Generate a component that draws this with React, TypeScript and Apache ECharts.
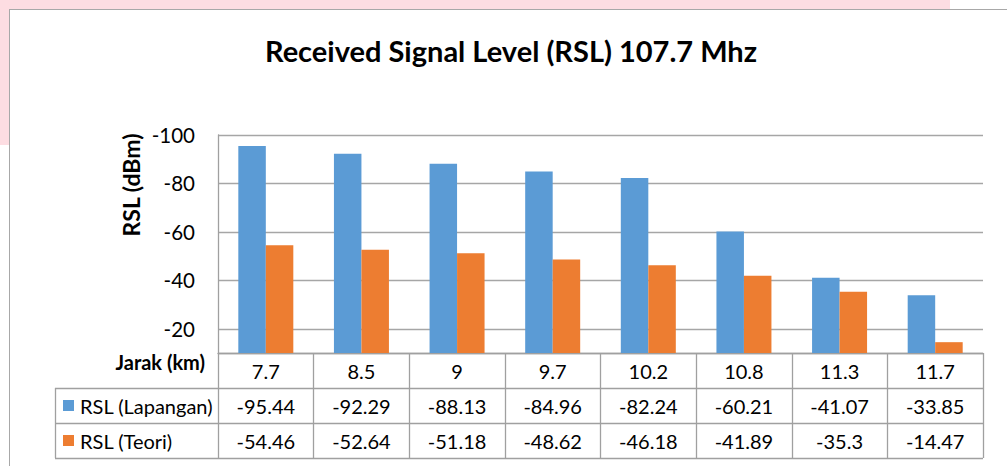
import React, { useEffect, useRef } from "react";
import * as echarts from "echarts";

const categories = ["7.7", "8.5", "9", "9.7", "10.2", "10.8", "11.3", "11.7"];
const rslLapangan = [-95.44, -92.29, -88.13, -84.96, -82.24, -60.21, -41.07, -33.85];
const rslTeori = [-54.46, -52.64, -51.18, -48.62, -46.18, -41.89, -35.3, -14.47];
const seriesNames = ["RSL (Lapangan)", "RSL (Teori)"];
const colors = ["#5b9bd5", "#ed7d31"];
const titleText = "Received Signal Level (RSL) 107.7 Mhz";
const yAxisTitle = "RSL (dBm)";
const xAxisTitle = "Jarak (km)";

const FONT = "Lato, 'Noto Sans', sans-serif";
const LINE = "#a0a0a0";

export default function App() {
  const ref = useRef<HTMLDivElement>(null);
  useEffect(() => {
    document.body.style.margin = "0";
    const chart = echarts.init(ref.current!, null, { renderer: "svg" });
    const gridLeft = 218;
    const gridRight = 983;
    const gridTop = 135;
    const gridBottom = 353;
    const rowH = 35;
    const tableLeft = 55;
    const rows = [gridBottom + rowH, gridBottom + 2 * rowH, gridBottom + 3 * rowH];

    const graphic: any[] = [
      { type: "rect", shape: { x: 0, y: 0, width: 950, height: 9 }, style: { fill: "#fddde2" }, silent: true },
      { type: "rect", shape: { x: 0, y: 0, width: 9, height: 145 }, style: { fill: "#fddde2" }, silent: true },
      { type: "line", shape: { x1: 9, y1: 9.5, x2: 1007, y2: 9.5 }, style: { stroke: "#a8a8a8", lineWidth: 1 } },
      { type: "line", shape: { x1: 9.5, y1: 9, x2: 9.5, y2: 466 }, style: { stroke: "#a8a8a8", lineWidth: 1 } },
      {
        type: "text",
        x: 511,
        y: 50,
        style: { text: titleText, font: `bold 29px ${FONT}`, fill: "#000", textAlign: "center", textVerticalAlign: "middle" },
      },
      {
        type: "text",
        x: 131,
        y: 185,
        rotation: Math.PI / 2,
        style: { text: yAxisTitle, font: `bold 23px ${FONT}`, fill: "#000", textAlign: "center", textVerticalAlign: "middle" },
      },
      {
        type: "text",
        x: 205,
        y: 362,
        style: { text: xAxisTitle, font: `bold 20px ${FONT}`, fill: "#000", textAlign: "right", textVerticalAlign: "middle" },
      },
    ];
    rows.forEach((y) => {
      graphic.push({ type: "line", shape: { x1: tableLeft, y1: y + 0.5, x2: gridRight, y2: y + 0.5 }, style: { stroke: LINE, lineWidth: 1.3 } });
    });
    graphic.push({ type: "line", shape: { x1: tableLeft + 0.5, y1: rows[0], x2: tableLeft + 0.5, y2: rows[2] }, style: { stroke: LINE, lineWidth: 1.3 } });
    seriesNames.forEach((n, i) => {
      const cy = gridBottom + rowH * (i + 1) + rowH / 2;
      graphic.push({ type: "rect", shape: { x: 63, y: cy - 5.5, width: 11, height: 11 }, style: { fill: colors[i] } });
      graphic.push({
        type: "text",
        x: 80,
        y: cy,
        style: { text: n, font: `20px ${FONT}`, fill: "#000", textAlign: "left", textVerticalAlign: "middle" },
      });
    });

    const labelStyle = { fontSize: 20, fontFamily: FONT, color: "#000", margin: 8, interval: 0 };

    chart.setOption({
      animation: false,
      backgroundColor: "#fff",
      grid: { left: gridLeft, right: 1007 - gridRight, top: gridTop, bottom: 466 - gridBottom, containLabel: false },
      xAxis: [
        {
          type: "category",
          data: categories,
          position: "bottom",
          axisLine: { show: true, lineStyle: { color: LINE, width: 1.3 } },
          axisTick: { show: true, length: rowH * 3, lineStyle: { color: LINE, width: 1.3 } },
          axisLabel: labelStyle,
        },
        {
          type: "category",
          data: rslLapangan.map((v) => String(v)),
          position: "bottom",
          offset: rowH,
          axisLine: { show: false },
          axisTick: { show: false },
          axisLabel: labelStyle,
        },
        {
          type: "category",
          data: rslTeori.map((v) => String(v)),
          position: "bottom",
          offset: rowH * 2,
          axisLine: { show: false },
          axisTick: { show: false },
          axisLabel: labelStyle,
        },
      ],
      yAxis: {
        type: "value",
        inverse: true,
        min: -100,
        max: -10,
        interval: 20,
        axisLine: { show: true, lineStyle: { color: LINE, width: 1.3 } },
        axisTick: { show: false },
        axisLabel: { showMaxLabel: false, fontSize: 20.5, fontFamily: FONT, color: "#000", margin: 23 },
        splitLine: { show: true, lineStyle: { color: "#a6a6a6", width: 1.3 } },
      },
      series: [
        {
          name: seriesNames[0],
          type: "bar",
          xAxisIndex: 0,
          data: rslLapangan,
          barWidth: 27.5,
          barGap: "0%",
          itemStyle: { color: colors[0] },
          clip: true,
        },
        {
          name: seriesNames[1],
          type: "bar",
          xAxisIndex: 0,
          data: rslTeori,
          barWidth: 27.5,
          barGap: "0%",
          itemStyle: { color: colors[1] },
          clip: true,
        },
      ],
      graphic,
    });
    return () => chart.dispose();
  }, []);
  return <div ref={ref} style={{ width: 1007, height: 466 }} />;
}
